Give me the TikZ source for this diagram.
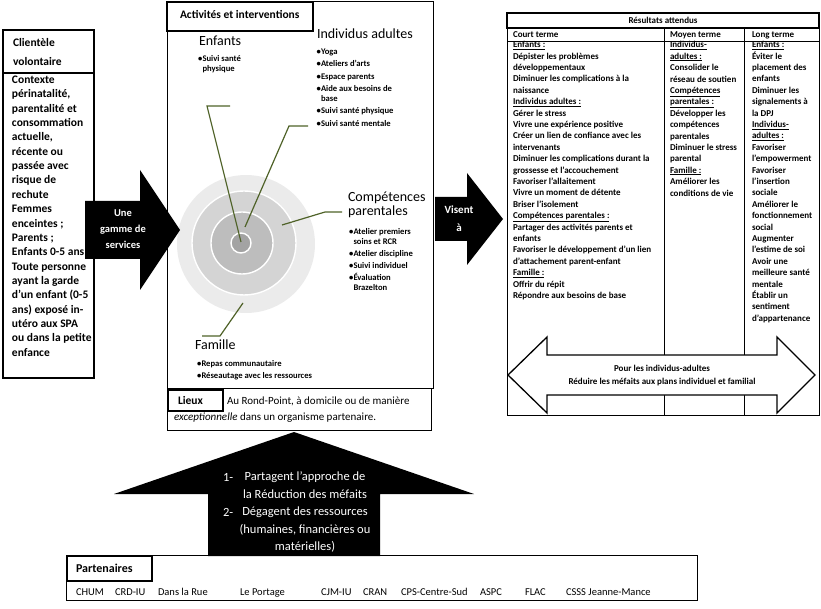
\documentclass[tikz,border=0pt]{standalone}
\usepackage{fontspec}
\setmainfont{Carlito}
\usetikzlibrary{positioning}
\definecolor{leafgreen}{HTML}{4F6228}
\newcommand{\bl}{\makebox[4.5pt][l]{\textbullet}}
\newcommand{\ind}{\hspace*{4.5pt}}

\begin{document}
\begin{tikzpicture}[x=1pt, y=-1pt,
    every node/.style={inner sep=0pt, outer sep=0pt},
    box/.style={draw, line width=0.9pt},
    heavy/.style={draw, line width=2.6pt},
    ring/.style={draw=white, line width=1.4pt},
    leader/.style={draw=leafgreen, line width=1.2pt},
    tabtext/.style={font=\bfseries\fontsize{9}{11.4}\selectfont, align=left, anchor=north west},
    bullets/.style={font=\bfseries\fontsize{8.6}{10}\selectfont, align=left, anchor=north west},
    heading/.style={font=\fontsize{14}{14}\selectfont, align=left, anchor=base west},
    title/.style={font=\bfseries\fontsize{11.5}{14}\selectfont, anchor=base west},
    onblack/.style={text=white, align=center}
    ]
\useasboundingbox (0,0) rectangle (821,609);

% clientele
\draw[heavy] (3,30) rectangle (94,378);
\draw[heavy] (3,30) rectangle (94,73);
\node[title, align=left, anchor=north west, font=\bfseries\fontsize{11.5}{19}\selectfont] (client) at (13,38) {Clientèle\\volontaire};
\node[font=\bfseries\fontsize{11.5}{14.35}\selectfont, align=left, anchor=north west] (clientbody) at (12,76)
  {Contexte\\périnatalité,\\parentalité et\\consommation\\actuelle,\\récente ou\\passée avec\\risque de\\rechute\\Femmes\\enceintes ;\\Parents ;\\Enfants 0-5 ans;\\Toute personne\\ayant la garde\\d'un enfant (0-5\\ans) exposé in-\\utéro aux SPA\\ou dans la petite\\enfance};

% activites
\draw[box] (167,1) rectangle (433,388);
\draw[heavy] (167,2) rectangle (313,31);
\node[title] (activ) at (180,19) {Activités et interventions};

\fill[black!8] (246,244) circle (69);
\filldraw[fill=black!17, ring] (244,243) circle (52);
\filldraw[fill=black!26, ring] (242,243) circle (31);
\filldraw[fill=black!36, ring] (241,243) circle (10);

\node[heading] (enf) at (199,45.5) {Enfants};
\node[bullets] (enflist) at (198,55) {\bl Suivi santé\\\ind physique};
\node[heading] (adu) at (317,38.5) {Individus adultes};
\node[bullets] (adulist) at (316.5,49)
  {\bl Yoga\\[2.3pt]\bl Ateliers d'arts\\[2.3pt]\bl Espace parents\\[2.3pt]\bl Aide aux besoins de\\\ind base\\[2.3pt]\bl Suivi santé physique\\[2.3pt]\bl Suivi santé mentale};
\node[heading, anchor=north west] (comp) at (348,192) {Compétences\\parentales};
\node[bullets] (complist) at (349,228)
  {\bl Atelier premiers\\\ind soins et RCR\\[2pt]\bl Atelier discipline\\[2pt]\bl Suivi individuel\\[2pt]\bl Évaluation\\\ind Brazelton};
\node[heading] (fam) at (195,349.5) {Famille};
\node[bullets] (famlist) at (197,360) {\bl Repas communautaire\\[2pt]\bl Réseautage avec les ressources};

% leaders
\coordinate (enfA) at (230,106); \coordinate (enfB) at (207,106); \coordinate (enfC) at (241,242);
\coordinate (aduA) at (308,126); \coordinate (aduB) at (289,126); \coordinate (aduC) at (245,227);
\coordinate (comA) at (342,212); \coordinate (comB) at (325,212); \coordinate (comC) at (282,225);
\coordinate (famA) at (202,336); \coordinate (famB) at (220,336); \coordinate (famC) at (243,303);
\draw[leader] (enfA) -- (enfB) -- (enfC);
\draw[leader] (aduA) -- (aduB) -- (aduC);
\draw[leader] (comA) -- (comB) -- (comC);
\draw[leader] (famA) -- (famB) -- (famC);

% lieux
\draw[box] (167,388) rectangle (431,430);
\draw[heavy] (168,390) rectangle (223,411);
\node[title] (lieux) at (178,404) {Lieux};
\node[font=\fontsize{11}{13}\selectfont, anchor=base west] (lieuxA) at (227,404) {Au Rond-Point, à domicile ou de manière};
\node[font=\fontsize{11}{13}\selectfont, anchor=base west] (lieuxB) at (174,420) {\textit{exceptionnelle} dans un organisme partenaire.};

% resultats
\draw[box] (507,28) rectangle (819,415);
\draw[box] (507,41) -- (819,41);
\draw[box] (664,28) -- (664,415);
\draw[box] (744,28) -- (744,415);
\draw[heavy] (507,13) rectangle (819,28);
\node[font=\bfseries\fontsize{9}{11}\selectfont] (res) at (663,20.5) {Résultats attendus};
\node[tabtext, anchor=base west] (court) at (513,37.5) {Court terme};
\node[tabtext, anchor=base west] (moyen) at (670,37.5) {Moyen terme};
\node[tabtext, anchor=base west] (long) at (752,37.5) {Long terme};
\node[tabtext] (col1) at (513,41.5)
  {\underline{Enfants :}\\Dépister les problèmes\\développementaux\\Diminuer les complications à la\\naissance\\
   \underline{Individus adultes :}\\Gérer le stress\\Vivre une expérience positive\\Créer un lien de confiance avec les\\intervenants\\
   Diminuer les complications durant la\\grossesse et l'accouchement\\Favoriser l'allaitement\\Vivre un moment de détente\\Briser l'isolement\\
   \underline{Compétences parentales :}\\Partager des activités parents et\\enfants\\Favoriser le développement d'un lien\\d'attachement parent-enfant\\
   \underline{Famille :}\\Offrir du répit\\Répondre aux besoins de base};
\node[tabtext] (col2) at (670,41.5)
  {\underline{Individus-}\\\underline{adultes :}\\Consolider le\\réseau de soutien\\\underline{Compétences}\\\underline{parentales :}\\
   Développer les\\compétences\\parentales\\Diminuer le stress\\parental\\\underline{Famille :}\\Améliorer les\\conditions de vie};
\node[tabtext] (col3) at (752,41.5)
  {\underline{Enfants :}\\Éviter le\\placement des\\enfants\\Diminuer les\\signalements à\\la DPJ\\\underline{Individus-}\\\underline{adultes :}\\
   Favoriser\\l'empowerment\\Favoriser\\l'insertion\\sociale\\Améliorer le\\fonctionnement\\social\\Augmenter\\l'estime de soi\\
   Avoir une\\meilleure santé\\mentale\\Établir un\\sentiment\\d'appartenance};

\draw[fill=white, line width=1.3pt] (508,375) -- (547,337) -- (547,355) -- (777,355) -- (777,337) -- (815,375)
  -- (777,413) -- (777,395) -- (547,395) -- (547,413) -- cycle;
\node[font=\bfseries\fontsize{9}{13}\selectfont, align=center] (reduire) at (662,375.5)
  {Pour les individus-adultes\\Réduire les méfaits aux plans individuel et familial};

% fleches
\fill (85,201) -- (140,201) -- (140,170) -- (180,230) -- (140,290) -- (140,259) -- (85,259) -- cycle;
\node[onblack, font=\bfseries\fontsize{10.5}{16}\selectfont] (gamme) at (123,229) {Une\\gamme de\\services};
\fill (435,197) -- (467,197) -- (467,173) -- (503,219) -- (467,265) -- (467,241) -- (435,241) -- cycle;
\node[onblack, font=\bfseries\fontsize{11}{18}\selectfont] (visent) at (459,219) {Visent\\à};
\fill (208,556) -- (208,494) -- (114,494) -- (294,432) -- (474,494) -- (380,494) -- (380,556) -- cycle;
\node[onblack, font=\fontsize{12.5}{17.5}\selectfont] (approche) at (305,512)
  {Partagent l'approche de\\la Réduction des méfaits\\Dégagent des ressources\\(humaines, financières ou\\matérielles)};
\node[text=white, font=\fontsize{12.5}{14}\selectfont, anchor=base west] (un) at (223,481) {1-};
\node[text=white, font=\fontsize{12.5}{14}\selectfont, anchor=base west] (deux) at (223,516) {2-};

% partenaires
\draw[box] (66,555) rectangle (697,600);
\draw[heavy] (67,556) rectangle (152,581);
\node[font=\bfseries\fontsize{12}{14}\selectfont, anchor=base west] (partners) at (76,572) {Partenaires};
\foreach \x/\nm [count=\i] in {76/CHUM, 115/CRD-IU, 158/Dans la Rue, 240/Le Portage, 321/CJM-IU,
    363/CRAN, 401/CPS-Centre-Sud, 480/ASPC, 525/FLAC, 566/CSSS Jeanne-Mance}
  \node[font=\fontsize{10.5}{12}\selectfont, anchor=base west] (part\i) at (\x,595) {\nm};
\end{tikzpicture}
\end{document}
